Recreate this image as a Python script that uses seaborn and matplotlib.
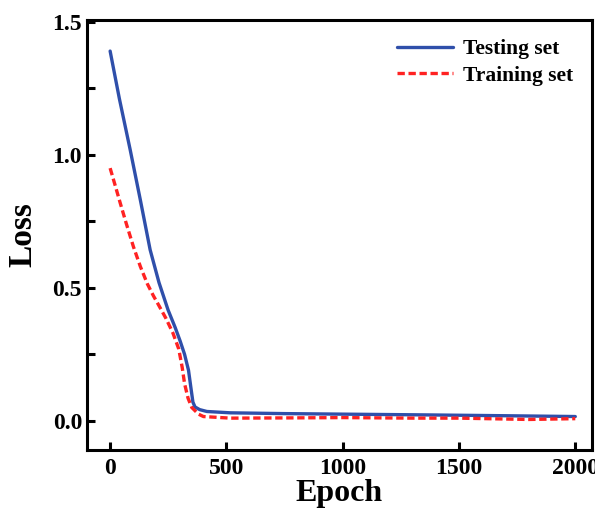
import matplotlib
matplotlib.use("Agg")
import matplotlib.pyplot as plt
import seaborn as sns
import pandas as pd

# values
test_epoch = [0, 40, 86, 130, 172, 210, 249, 280, 301, 320, 337, 348, 356, 365, 385, 416, 516, 750, 1000, 1376, 1700, 2000]
test_loss = [1.39, 1.21, 1.02, 0.83, 0.643, 0.52, 0.417, 0.35, 0.30, 0.25, 0.19, 0.12, 0.07, 0.052, 0.042, 0.035, 0.030, 0.027, 0.025, 0.022, 0.019, 0.016]

train_epoch = [0, 20, 43, 70, 100, 130, 160, 186, 208, 240, 270, 295, 310, 320, 335, 351, 380, 401, 516, 800, 1000, 1300, 1500, 1800, 2000]
train_loss = [0.95, 0.89, 0.82, 0.74, 0.655, 0.58, 0.515, 0.47, 0.436, 0.385, 0.33, 0.27, 0.20, 0.14, 0.085, 0.05, 0.025, 0.016, 0.010, 0.011, 0.012, 0.010, 0.010, 0.005, 0.008]

sns.set_style("ticks")
plt.rcParams['font.family'] = ['Liberation Serif', 'DejaVu Serif']
plt.rcParams['font.weight'] = 'bold'
plt.rcParams['text.color'] = 'black'
plt.rcParams['axes.labelcolor'] = 'black'
plt.rcParams['xtick.color'] = 'black'
plt.rcParams['ytick.color'] = 'black'
plt.rcParams['axes.edgecolor'] = 'black'

df = pd.concat([
    pd.DataFrame({'Epoch': test_epoch, 'Loss': test_loss, 'set': 'Testing set'}),
    pd.DataFrame({'Epoch': train_epoch, 'Loss': train_loss, 'set': 'Training set'}),
])

fig = plt.figure(figsize=(5.95, 5.12), dpi=100)
ax = fig.add_axes([0.146, 0.121, 0.849, 0.840])
sns.lineplot(data=df, x='Epoch', y='Loss', hue='set', style='set',
             palette={'Testing set': '#2F4FAA', 'Training set': '#FF2222'},
             dashes={'Testing set': '', 'Training set': (2.2, 1.1)},
             linewidth=2.4, ax=ax, sort=False)

ax.set_xlim(-100, 2072)
ax.set_ylim(-0.11, 1.507)
ax.set_xticks([0, 500, 1000, 1500, 2000])
ax.set_yticks([0.0, 0.5, 1.0, 1.5])
ax.set_yticks([0.25, 0.75, 1.25], minor=True)
ax.set_yticklabels(['0.0', '0.5', '1.0', '1.5'])
ax.tick_params(axis='both', which='both', direction='in', length=6, width=2.2, labelsize=17)
ax.tick_params(axis='x', pad=6)
for s in ax.spines.values():
    s.set_linewidth(2.2)
    s.set_visible(True)

ax.set_xlabel('Epoch', fontsize=23, fontweight='bold', labelpad=0)
ax.set_ylabel('Loss', fontsize=24, fontweight='bold', labelpad=10)

leg = ax.legend(loc='upper right', frameon=False, handlelength=2.6,
                handletextpad=0.45, labelspacing=0.3, borderaxespad=0.5,
                prop={'weight': 'bold', 'size': 15.5})
for h in leg.get_lines():
    h.set_linewidth(2.4)

fig.savefig('out.png', dpi=100)
